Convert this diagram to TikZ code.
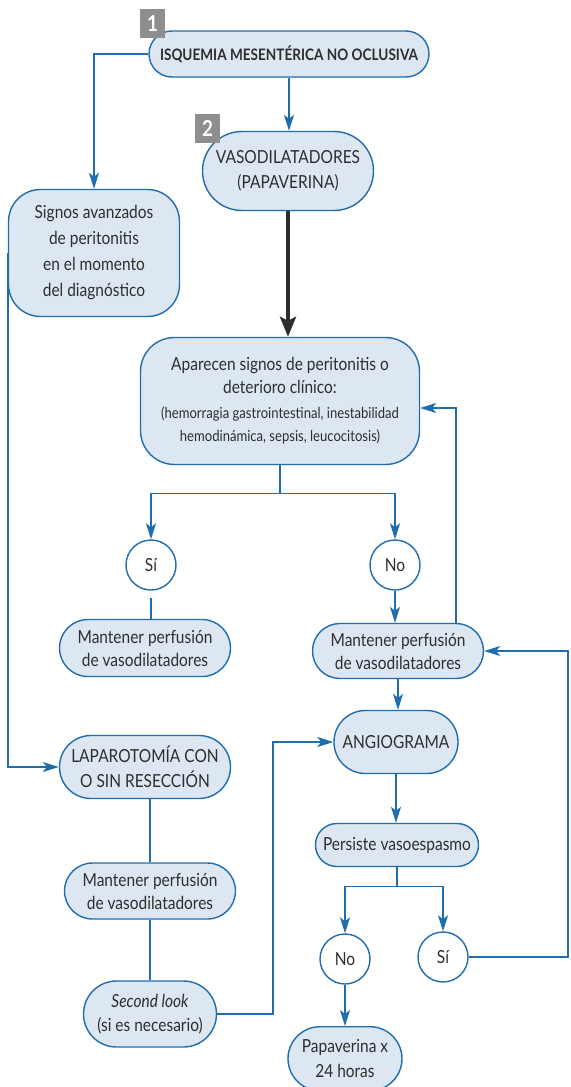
\documentclass[tikz,border=0pt]{standalone}
\usepackage{fontspec}
\setmainfont{Lato}[FakeStretch=0.86]
\usetikzlibrary{arrows.meta,positioning}
\definecolor{cLine}{HTML}{1F6DAE}
\definecolor{cFill}{HTML}{DDE7F2}
\definecolor{cInk}{HTML}{2E2E2E}
\definecolor{cTag}{HTML}{8E8E8E}
\tikzset{
  >={Stealth[length=8pt,width=5pt,inset=2pt]},
  box/.style ={draw=cLine,fill=cFill,line width=0.7pt,align=center,text=cInk,inner sep=0pt,
               font=\fontsize{9}{11.5}\selectfont},
  pill/.style={box,rounded corners=#1},
  circ/.style={circle,draw=cLine,fill=white,line width=0.7pt,minimum size=25pt,inner sep=0pt,
               text=cInk,font=\fontsize{9}{11.5}\selectfont},
  ar/.style  ={->,cLine,line width=0.7pt},
  ln/.style  ={cLine,line width=0.7pt},
  tag/.style ={fill=cTag,text=white,inner sep=0pt,minimum width=12.5pt,minimum height=14.5pt,
               font=\bfseries\fontsize{11}{11}\selectfont},
}

\begin{document}
\begin{tikzpicture}[x=0.5pt,y=-0.5pt]
\useasboundingbox (0,0) rectangle (570,1087);
% nodes
\node[pill=11.5pt,minimum width=140pt,minimum height=23pt,font=\bfseries\fontsize{7.9}{11.5}\selectfont]
      (isq) at (289,54) {ISQUEMIA MESENTÉRICA NO OCLUSIVA};
\node[tag] (t1) at (152.5,23.5) {1};
\node[pill=19.7pt,minimum width=85.5pt,minimum height=39.5pt,font=\fontsize{9}{12.5}\selectfont]
      (vaso) at (288,171) {VASODILATADORES\\(PAPAVERINA)};
\node[tag] (t2) at (207.5,128.5) {2};
\node[pill=16pt,minimum width=85.5pt,minimum height=63.5pt,font=\fontsize{9}{13}\selectfont] (sig) at (94,253)
      {Signos avanzados\\de peritonitis\\en el momento\\del diagnóstico};
\node[pill=17pt,minimum width=139.5pt,minimum height=63.5pt] (apar) at (280,401)
      {Aparecen signos de peritonitis o\\deterioro clínico:\\[1pt]
       {\fontsize{7.6}{13}\selectfont (hemorragia gastrointestinal, inestabilidad}\\
       {\fontsize{7.6}{13}\selectfont hemodinámica, sepsis, leucocitosis)}};
\node[circ] (si1) at (151,565) {Sí};
\node[circ] (no1) at (395,565) {No};
\node[pill=14.2pt,minimum width=85.5pt,minimum height=28.5pt] (mant1) at (145,648) {Mantener perfusión\\de vasodilatadores};
\node[pill=13.7pt,minimum width=85.5pt,minimum height=27.5pt] (mant2) at (398,651) {Mantener perfusión\\de vasodilatadores};
\node[pill=15.7pt,minimum width=85.5pt,minimum height=31.5pt,font=\fontsize{9}{12.5}\selectfont]
      (lapa) at (145,767) {LAPAROTOMÍA CON\\O SIN RESECCIÓN};
\node[pill=15.7pt,minimum width=62pt,minimum height=31.5pt] (angio) at (396,742) {ANGIOGRAMA};
\node[pill=10.7pt,minimum width=81.5pt,minimum height=21.5pt] (pers) at (397,845) {Persiste vasoespasmo};
\node[pill=14pt,minimum width=85.5pt,minimum height=28pt] (mant3) at (150,891) {Mantener perfusión\\de vasodilatadores};
\node[pill=16.5pt,minimum width=66.5pt,minimum height=33pt,font=\fontsize{9}{12}\selectfont]
      (sec) at (150,1014) {\textit{Second look}\\(si es necesario)};
\node[circ] (noR) at (345,959) {No};
\node[circ] (siR) at (443,957) {Sí};
\node[pill=16pt,minimum width=57pt,minimum height=32pt,anchor=north,font=\fontsize{9}{12.5}\selectfont]
      (papa) at (345,1026) {Papaverina x\\24 horas};
\coordinate (rt) at (568,0);
\coordinate (jog) at (273,0);
% connectors
\draw[ar] (isq.west) -| (sig.north);
\draw[ar] (isq.south) -- (isq.south |- vaso.north);
\draw[->,line width=2.4pt,cInk,>={Stealth[length=10pt,width=8pt,inset=2pt]}] (vaso.south) -- (vaso.south |- apar.north);
\draw[ln] (apar.south) -- ++(0,28) coordinate (sp1);
\draw[ar] (sp1) -| (si1.north);
\draw[ar] (sp1) -| (no1.north);
\draw[ln] ([yshift=-3.5pt]si1.south) -- (si1.south |- mant1.north);
\draw[ar] (no1.south) -- (no1.south |- mant2.north);
\draw[ar] ([xshift=29pt]mant2.north) |- ([yshift=-3.5pt]apar.east);
\draw[ar] (mant2.south) -- (mant2.south |- angio.north);
\draw[ar] (sig.west) |- (lapa.west);
\draw[ln] (lapa.south -| mant3.north) -- (mant3.north);
\draw[ln] (mant3.south) -- (mant3.south |- sec.north);
\draw[ar] (sec.east) -| (jog |- angio.west) -- (angio.west);
\draw[ar] (angio.south) -- (angio.south |- pers.north);
\draw[ln] (pers.south) -- ++(0,19) coordinate (sp2);
\draw[ar] (sp2) -| (noR.north);
\draw[ar] (sp2) -| (siR.north);
\draw[ar] (noR.south) -- (noR.south |- papa.north);
\draw[ar] (siR.east) -- (siR.east -| rt) |- (mant2.east);
\end{tikzpicture}
\end{document}
